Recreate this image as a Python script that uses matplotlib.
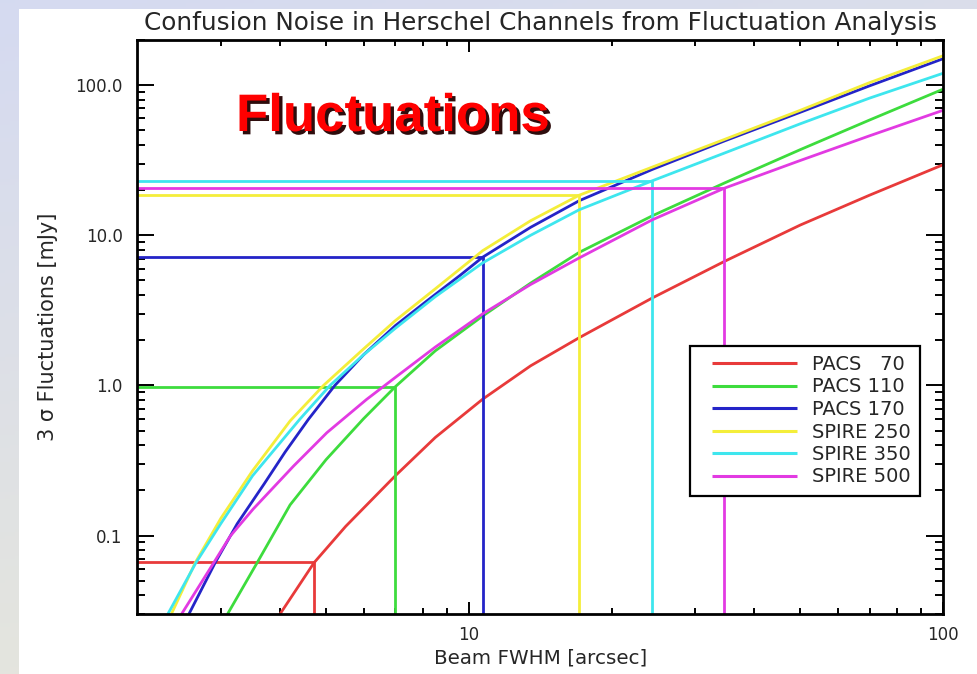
import numpy as np
import matplotlib
matplotlib.use("Agg")
import matplotlib.pyplot as plt
import matplotlib.patheffects as pe
from matplotlib.lines import Line2D
from matplotlib.legend_handler import HandlerLine2D
from matplotlib.patches import Rectangle
from matplotlib.ticker import FixedLocator, FuncFormatter, NullFormatter

# ---------------- data ----------------
labels = ["PACS   70", "PACS 110", "PACS 170", "SPIRE 250", "SPIRE 350", "SPIRE 500"]
colors = ["#e83a3a", "#3ddc3d", "#2424c8", "#f4ee3a", "#3ee6ee", "#e23ae2"]

pacs70_x = [4.0, 4.72, 5.5, 7.0, 8.5, 10.7, 13.5, 17.1, 24.4, 34.6, 50, 70, 100]
pacs70_y = [0.03, 0.066, 0.115, 0.25, 0.45, 0.81, 1.35, 2.08, 3.83, 6.7, 11.7, 18.5, 29.5]

pacs110_x = [3.1, 3.58, 4.2, 5.0, 6.0, 7.0, 8.5, 10.7, 13.5, 17.1, 24.4, 34.6, 50, 70, 100]
pacs110_y = [0.03, 0.066, 0.16, 0.32, 0.6, 0.98, 1.7, 2.9, 4.8, 7.7, 13.5, 22.3, 37.2, 58.6, 94]

pacs170_x = [2.57, 2.92, 3.25, 3.7, 4.1, 4.59, 5.22, 6.0, 7.0, 8.2, 9.58, 10.7, 13.5, 17.1, 24.4, 34.6, 50, 70, 100]
pacs170_y = [0.03, 0.066, 0.12, 0.22, 0.36, 0.594, 1.0, 1.6, 2.5, 3.7, 5.4, 7.15, 11.3, 17.0, 27.5, 42.5, 66, 99, 150]

spire250_x = [2.36, 2.65, 3.0, 3.5, 4.2, 4.94, 6.0, 7.0, 8.5, 10.7, 13.5, 17.1, 24.4, 34.6, 50, 70, 100]
spire250_y = [0.03, 0.066, 0.13, 0.27, 0.58, 1.0, 1.75, 2.7, 4.4, 7.9, 12.5, 18.5, 28.5, 43.5, 68, 104, 157]

spire350_x = [2.32, 2.66, 3.0, 3.5, 4.4, 5.1, 6.0, 7.0, 8.5, 10.7, 13.5, 17.1, 24.4, 34.6, 50, 70, 100]
spire350_y = [0.03, 0.066, 0.12, 0.25, 0.594, 1.0, 1.6, 2.4, 3.9, 6.55, 10.0, 14.8, 23.1, 35.3, 55.3, 82, 120]

spire500_x = [2.48, 2.9, 3.14, 3.51, 4.27, 5.02, 6.09, 7.0, 8.5, 10.7, 13.5, 17.1, 24.4, 34.6, 50, 70, 100]
spire500_y = [0.03, 0.066, 0.099, 0.15, 0.29, 0.484, 0.807, 1.13, 1.8, 3.0, 4.7, 7.07, 12.7, 20.6, 31.5, 46, 68]

# beam FWHM of each channel and the confusion level it reaches
beam_fwhm = [4.72, 7.0, 10.7, 17.1, 24.4, 34.6]
confusion_level = [0.067, 0.98, 7.18, 18.6, 23.1, 20.7]

x_limits = [2.0, 100.0]
y_limits = [0.03, 200.0]
x_major = [10, 100]
y_major = [0.1, 1.0, 10.0, 100.0]
y_major_labels = ["0.1", "1.0", "10.0", "100.0"]

title = "Confusion Noise in Herschel Channels from Fluctuation Analysis"
xlabel = "Beam FWHM [arcsec]"
ylabel = "3 σ Fluctuations [mJy]"
banner = "Fluctuations"

curves_x = [pacs70_x, pacs110_x, pacs170_x, spire250_x, spire350_x, spire500_x]
curves_y = [pacs70_y, pacs110_y, pacs170_y, spire250_y, spire350_y, spire500_y]

# ---------------- figure ----------------
W, H = 978, 674
fig = plt.figure(figsize=(W / 100, H / 100), dpi=100)

# slide-like gradient background with the white picture on top
bg = fig.add_axes([0, 0, 1, 1], zorder=-10)
u = np.linspace(0, 1, 200)[None, :]
v = np.linspace(0, 1, 200)[:, None]
t = np.clip((v * 1.0 + u * 0.35) / 1.35, 0, 1)
c0 = np.array([0.835, 0.855, 0.945])
c1 = np.array([0.915, 0.912, 0.845])
grad = c0[None, None, :] * (1 - t[..., None]) + c1[None, None, :] * t[..., None]
bg.imshow(grad, extent=[0, 1, 0, 1], aspect="auto", origin="upper")
bg.add_patch(Rectangle((19 / W, 0), 1 - 19 / W, 1 - 9 / H, transform=bg.transAxes,
                       facecolor="white", edgecolor="none"))
bg.set_xlim(0, 1)
bg.set_ylim(0, 1)
bg.axis("off")

left, right, top, bottom = 137.3, 943.0, 40.0, 614.0
ax = fig.add_axes([left / W, 1 - bottom / H, (right - left) / W, (bottom - top) / H])
ax.set_xscale("log")
ax.set_yscale("log")
ax.set_xlim(*x_limits)
ax.set_ylim(*y_limits)

text_color = "#262626"
font = "DejaVu Sans"

handles = []
for cx, cy, col, lab, bx, cl in zip(curves_x, curves_y, colors, labels, beam_fwhm, confusion_level):
    ln, = ax.plot(cx, cy, color=col, lw=2.0, label=lab, solid_capstyle="butt")
    handles.append(ln)
    ax.plot([x_limits[0], bx, bx], [cl, cl, y_limits[0]], color=col, lw=2.0, clip_on=True)

for s in ax.spines.values():
    s.set_linewidth(2.0)
    s.set_color("black")

ax.xaxis.set_major_locator(FixedLocator(x_major))
ax.xaxis.set_minor_locator(FixedLocator([3, 4, 5, 6, 7, 8, 9, 20, 30, 40, 50, 60, 70, 80, 90]))
ax.xaxis.set_major_formatter(FuncFormatter(lambda val, pos: "%d" % round(val)))
ax.xaxis.set_minor_formatter(NullFormatter())
ymin_ticks = [m * 10.0 ** e for e in range(-2, 3) for m in range(2, 10)]
ymin_ticks = [tv for tv in ymin_ticks if y_limits[0] <= tv <= y_limits[1]]
ax.yaxis.set_major_locator(FixedLocator(y_major))
ax.yaxis.set_minor_locator(FixedLocator(ymin_ticks))
ax.yaxis.set_major_formatter(FuncFormatter(lambda val, pos: y_major_labels[y_major.index(min(y_major, key=lambda q: abs(np.log10(q) - np.log10(val))))]))
ax.yaxis.set_minor_formatter(NullFormatter())

ax.tick_params(which="both", direction="in", top=True, right=True, width=1.4, colors="black",
               labelcolor=text_color, labelsize=12)
ax.xaxis.set_tick_params(which="major", length=8.3, pad=9)
ax.xaxis.set_tick_params(which="minor", length=4.2)
ax.yaxis.set_tick_params(which="major", length=12.2, pad=10.5)
ax.yaxis.set_tick_params(which="minor", length=6.1)
for lab in ax.get_xticklabels() + ax.get_yticklabels():
    lab.set_fontfamily(font)

ax.set_title(title, fontsize=17.8, color=text_color, pad=7, family=font)
ax.set_xlabel(xlabel, fontsize=14.3, color=text_color, family=font)
ax.xaxis.set_label_coords(0.5, (bottom - 649) / (bottom - top))
ax.set_ylabel(ylabel, fontsize=15, color=text_color, family=font)
ax.yaxis.set_label_coords((58 - left) / (right - left), 0.5)

fs = 14.0
fs_px = fs * 100 / 72
leg = ax.legend(handles, labels, loc="upper left",
                bbox_to_anchor=((690 - left) / (right - left), (bottom - 346) / (bottom - top)),
                bbox_transform=ax.transAxes, borderaxespad=0, frameon=True, fancybox=False,
                edgecolor="black", framealpha=1, fontsize=fs,
                handlelength=(798 - 700) / fs_px, handletextpad=15 / fs_px,
                labelspacing=0.18, borderpad=9 / fs_px,
                handler_map={Line2D: HandlerLine2D(xpad=12.7 / fs_px)},
                prop={"family": font, "size": fs})
leg.get_frame().set_linewidth(1.6)
for txt in leg.get_texts():
    txt.set_color(text_color)
for lh in leg.get_lines():
    lh.set_linewidth(2.2)

fig.text(236 / W, 1 - 131 / H, banner, fontsize=38, fontweight="bold", color="#ff0000",
         family="Liberation Sans", ha="left", va="baseline",
         path_effects=[pe.withSimplePatchShadow(offset=(2.4, -2.4), shadow_rgbFace="#220000", alpha=0.95)])

fig.savefig("out.png", dpi=100)
